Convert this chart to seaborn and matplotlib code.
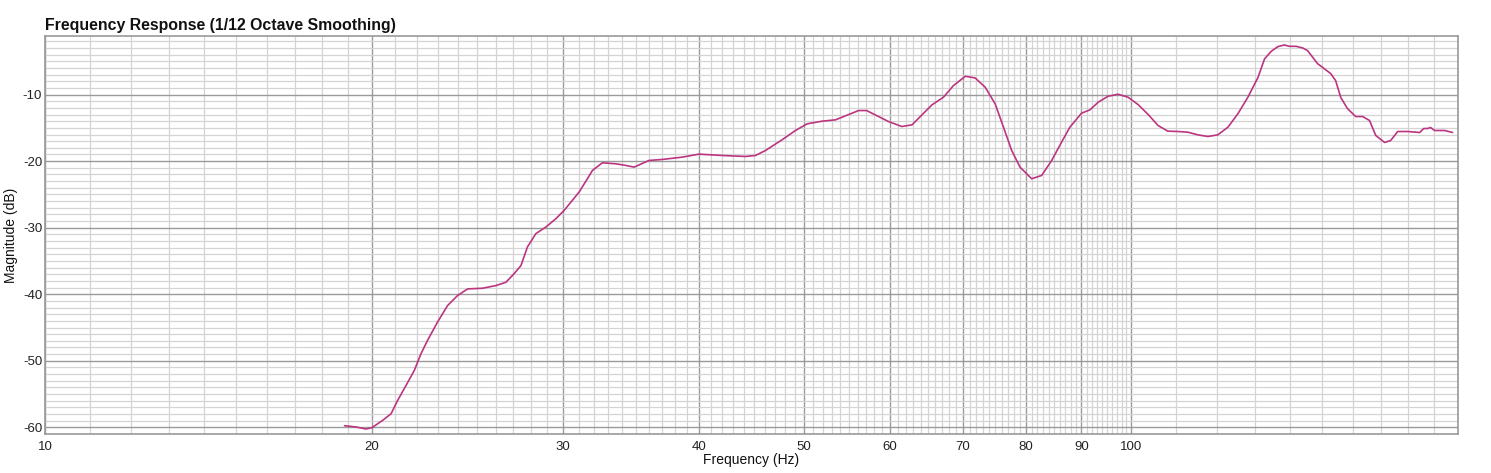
import matplotlib
matplotlib.use("Agg")
import matplotlib.pyplot as plt
import matplotlib.ticker as mticker
import numpy as np
import pandas as pd
import seaborn as sns

# ---- data ----
freq_hz = [18.87, 19.34, 19.75, 20.00, 20.46, 20.83, 21.12, 21.50, 21.88, 22.19,
           22.50, 22.98, 23.48, 23.98, 24.50, 25.28, 26.01, 26.57, 27.04, 27.43,
           27.81, 28.31, 28.92, 29.54, 30.06, 31.03, 31.58, 31.92, 32.60, 33.53,
           34.14, 34.87, 35.98, 37.00, 38.62, 40.00, 42.02, 44.16, 45.10, 46.07,
           47.71, 49.09, 50.31, 51.93, 53.43, 54.95, 56.13, 57.08,
           58.55, 59.79, 61.50, 62.85, 64.19, 65.56, 67.18, 68.62, 70.37, 71.85,
           73.40, 74.97, 76.30, 77.64, 79.02, 81.00, 82.74, 84.51, 86.30, 87.84,
           90.03, 91.64,
           93.27, 95.25, 97.29, 99.37, 101.5, 103.7, 105.9, 108.1, 110.5, 112.8,
           115.2, 117.7, 120.2, 122.8, 125.4, 128.1, 130.9, 132.7, 134.6, 136.5,
           138.4, 139.9, 141.9, 143.9, 145.4,
           148.5, 152.7, 154.3, 156.0, 158.2, 161.0, 163.4, 165.8, 168.0, 171.2,
           173.4, 176.0, 179.8, 184.4, 186.0, 187.5, 188.7, 190.3, 194.4, 197.7]
magnitude_db = [-59.75, -59.95, -60.25, -60.05, -58.95, -57.95, -55.95, -53.7, -51.45, -48.95,
                -46.95, -44.2, -41.7, -40.2, -39.2, -39.1, -38.7, -38.2, -36.9, -35.7,
                -32.9, -30.9, -29.9, -28.65, -27.4, -24.65, -22.65, -21.4, -20.25, -20.4,
                -20.6, -20.9, -19.9, -19.75, -19.4, -18.95, -19.15, -19.3, -19.15, -18.4,
                -16.8, -15.4, -14.4, -14.0, -13.8, -13.0, -12.4, -12.4,
                -13.3, -14.05, -14.8, -14.55, -13.05, -11.55, -10.4, -8.65, -7.25, -7.5,
                -8.9, -11.4, -14.9, -18.4, -20.9, -22.65, -22.15, -19.9, -17.15, -14.9,
                -12.8, -12.3,
                -11.15, -10.25, -9.95, -10.4, -11.5, -13.0, -14.65, -15.5, -15.55, -15.65,
                -16.05, -16.3, -16.05, -14.9, -12.9, -10.4, -7.4, -4.65, -3.5, -2.8,
                -2.55, -2.75, -2.75, -3.0, -3.4,
                -5.35, -6.85, -7.9, -10.45, -12.1, -13.3, -13.3, -13.9, -16.15, -17.2,
                -16.9, -15.55, -15.55, -15.7, -15.1, -15.1, -14.95, -15.4, -15.4, -15.7]

x_major = [10, 20, 30, 40, 50, 60, 70, 80, 90, 100]
x_labels = ["10", "20", "30", "40", "50", "60", "70", "80", "90", "100"]
x_minor = [f for f in range(11, 100) if f % 10 != 0] + list(range(110, 200, 10))
y_major = [-60, -50, -40, -30, -20, -10]
y_minor = [v for v in range(-61, 0) if v % 10 != 0]

df = pd.DataFrame({"Frequency (Hz)": freq_hz, "Magnitude (dB)": magnitude_db})

sns.set_style("white")
plt.rcParams["font.family"] = ["Liberation Sans", "DejaVu Sans"]
plt.rcParams["axes.unicode_minus"] = False

fig = plt.figure(figsize=(14.91, 4.73), dpi=100)
ax = fig.add_axes([45 / 1491, 1 - 434 / 473, (1458 - 45) / 1491, (434 - 36) / 473])

sns.lineplot(data=df, x="Frequency (Hz)", y="Magnitude (dB)", ax=ax,
             color="#bb3580", linewidth=1.2, sort=False, zorder=5)

ax.set_xscale("log")
ax.set_xlim(10, 200)
ax.set_ylim(-61, -1.2)

ax.xaxis.set_major_locator(mticker.FixedLocator(x_major))
ax.xaxis.set_major_formatter(mticker.FixedFormatter(x_labels))
ax.xaxis.set_minor_locator(mticker.FixedLocator(x_minor))
ax.xaxis.set_minor_formatter(mticker.NullFormatter())
ax.yaxis.set_major_locator(mticker.FixedLocator(y_major))
ax.yaxis.set_minor_locator(mticker.FixedLocator(y_minor))

ax.grid(which="minor", color="#d4d4d4", linewidth=0.9, zorder=0)
ax.grid(which="major", color="#9a9a9a", linewidth=1.0, zorder=1)
ax.set_axisbelow(True)

for s in ax.spines.values():
    s.set_color("#999999")
    s.set_linewidth(1.2)

ax.tick_params(axis="x", which="both", length=0, pad=5, labelsize=9.5, colors="#222222")
ax.tick_params(axis="y", which="both", length=0, pad=2, labelsize=9.5,
               labelcolor="#222222")

ax.set_xlabel("Frequency (Hz)", fontsize=10, labelpad=0, color="#111111")
ax.set_ylabel("Magnitude (dB)", fontsize=10, color="#111111")
ax.yaxis.set_label_coords(-27 / 1413, 0.5)
ax.set_title("Frequency Response (1/12 Octave Smoothing)", loc="left",
             fontsize=11.4, fontweight="bold", pad=4, color="#111111")

fig.savefig("out.png", dpi=100)
